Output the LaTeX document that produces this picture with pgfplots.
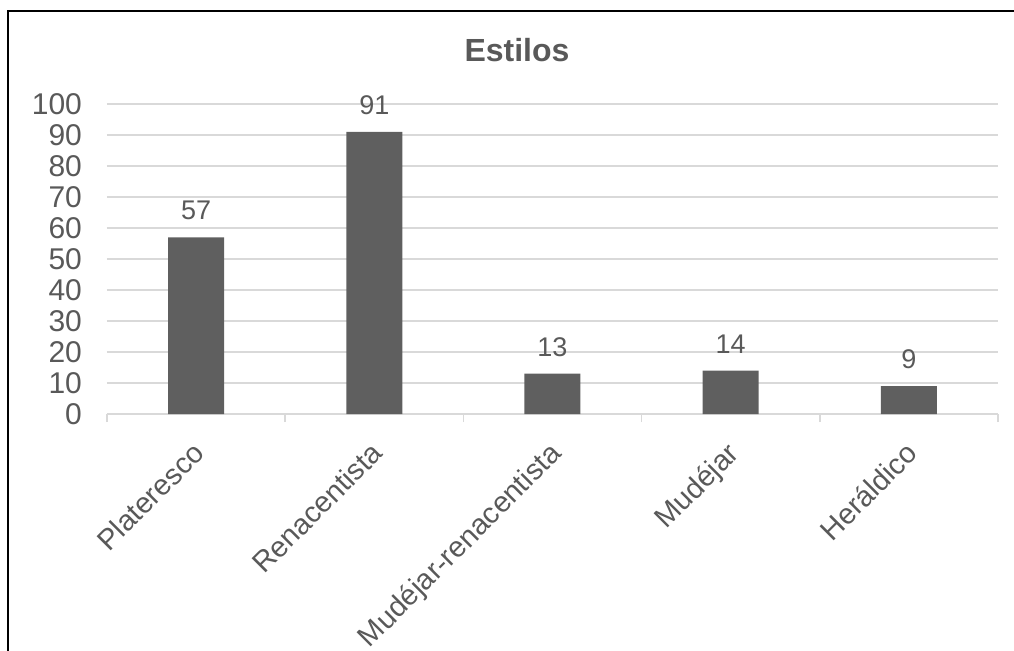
\documentclass[border=0pt]{standalone}
\usepackage{fontspec}
\setmainfont{Liberation Sans}
\usepackage{pgfplots}
\pgfplotsset{compat=1.18}
\definecolor{txtgray}{HTML}{595959}
\definecolor{bargray}{HTML}{5F5F5F}
\definecolor{gridgray}{HTML}{D9D9D9}
\begin{document}
\begin{tikzpicture}
% canvas: 1 px of the reference = 0.5pt, axis origin at px (107,414)
\path[use as bounding box] (-53.5pt,-118pt) rectangle (453.5pt,207pt);
\draw[line width=1pt, black] (-49.5pt,-120pt) -- (-49.5pt,201.5pt) -- (455pt,201.5pt);
\node[text=txtgray, font=\fontsize{16}{19}\selectfont\bfseries, anchor=base] at (205pt,176.5pt) {Estilos};
\begin{axis}[
    at={(0pt,0pt)}, anchor=south west,
    scale only axis,
    width=445.5pt, height=155pt,
    xmin=-0.5, xmax=4.5,
    ymin=0, ymax=100,
    ytick distance=10,
    axis x line*=bottom,
    axis y line*=left,
    x axis line style={draw=gridgray, line width=0.8pt},
    y axis line style={draw=none},
    ymajorgrids,
    grid style={gridgray, line width=0.8pt},
    xtick={0,1,2,3,4},
    xticklabels={Plateresco,Renacentista,Mudéjar-renacentista,Mudéjar,Heráldico},
    extra x ticks={-0.5,0.5,1.5,2.5,3.5,4.5},
    extra x tick labels={},
    extra x tick style={major tick length=4pt, tick style={gridgray, line width=0.8pt}, tick align=outside, grid=none},
    major tick length=0pt,
    tick label style={text=txtgray, font=\fontsize{15}{18}\selectfont},
    xticklabel style={anchor=north east, inner sep=1pt, xshift=-2.5pt, yshift=-11.5pt, rotate=45, font=\fontsize{14.5}{17}\selectfont},
    yticklabel style={anchor=east, xshift=-9pt},
    /pgf/number format/assume math mode=true,
    ybar, bar width=28pt,
    nodes near coords,
    every node near coord/.append style={text=txtgray, font=\fontsize{13.5}{16}\selectfont, yshift=5pt},
]
\addplot[fill=bargray, draw=none] coordinates {(0,57) (1,91) (2,13) (3,14) (4,9)};
\end{axis}
\end{tikzpicture}
\end{document}
